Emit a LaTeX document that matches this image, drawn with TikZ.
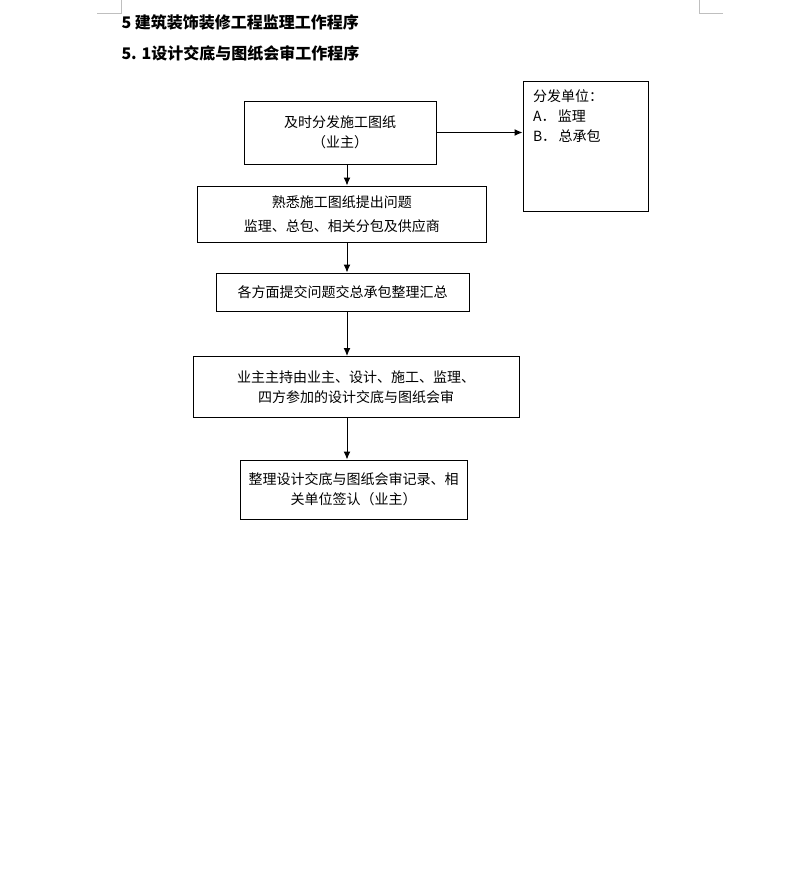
\documentclass[tikz,border=0pt]{standalone}
\usepackage{fontspec}
\usetikzlibrary{arrows.meta}
\setmainfont{Noto Sans CJK SC}

\begin{document}
\begin{tikzpicture}
  [x=1pt,y=-1pt,line width=1pt,>={Latex[length=8pt,width=7pt]},
   every node/.style={font=\fontsize{14}{20}\selectfont},
   box/.style={draw,align=center,inner sep=0pt},
   heading/.style={anchor=west,inner sep=0pt,font=\bfseries\fontsize{16}{20}\selectfont}]
  \useasboundingbox (0,0) rectangle (793,873);

  % page corner marks
  \draw[gray!50,line width=.8pt] (97,13) -- (121,13) -- (121,0);
  \draw[gray!50,line width=.8pt] (723,13) -- (699,13) -- (699,0);

  \node[heading] (title) at (121,22) {5 建筑装饰装修工程监理工作程序};
  \node[heading] (subtitle) at (121,53) {5. 1设计交底与图纸会审工作程序};

  \node[box,minimum width=192,minimum height=63] (fenfa) at (340,132.5) {及时分发施工图纸\\（业主）};
  \node[box,minimum width=125,minimum height=130] (danwei) at (585.5,146.75) {};
  \node[anchor=north west,align=left,inner sep=0pt] (danweitext) at ([shift={(10,8)}]danwei.north west) {分发单位：\\A．\,监理\\B．\,总承包};
  \node[box,minimum width=289,minimum height=56,font=\fontsize{14}{24}\selectfont] (shuxi) at (341.75,214) {熟悉施工图纸提出问题\\监理、总包、相关分包及供应商};
  \node[box,minimum width=253,minimum height=38] (huizong) at (342.5,292) {各方面提交问题交总承包整理汇总};
  \node[box,minimum width=326,minimum height=61] (huishen) at (356,387) {业主主持由业主、设计、施工、监理、\\四方参加的设计交底与图纸会审};
  \node[box,minimum width=227,minimum height=59] (jilu) at (353.5,489.5) {整理设计交底与图纸会审记录、相\\关单位签认（业主）};

  \coordinate (axis) at (347,0);
  \foreach \from/\to in {fenfa/shuxi,shuxi/huizong,huizong/huishen,huishen/jilu}
    \draw[->] (\from.south -| axis) -- (\to.north -| axis);
  \draw[->] (fenfa.east) -- (fenfa.east -| danwei.west);

\end{tikzpicture}
\end{document}
